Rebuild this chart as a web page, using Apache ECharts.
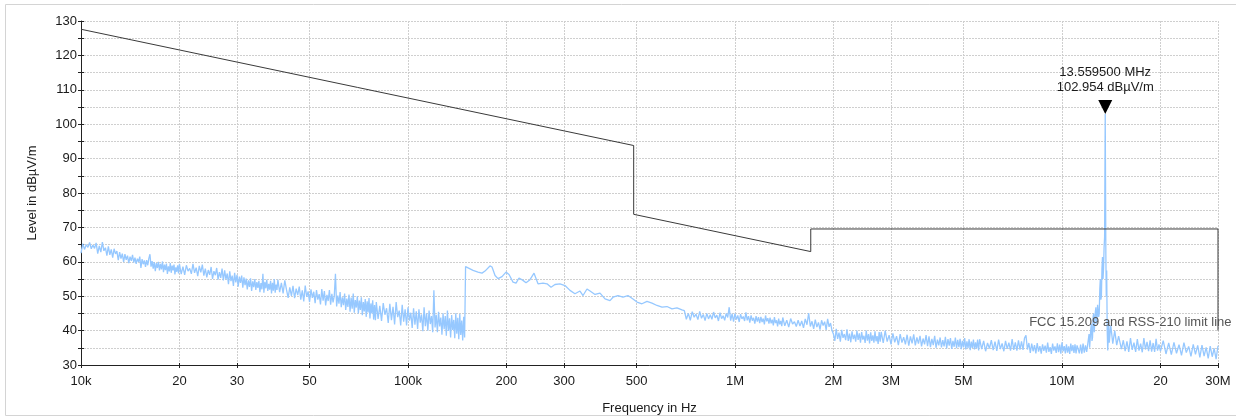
<!DOCTYPE html>
<html>
<head>
<meta charset="utf-8">
<script src="https://cdn.jsdelivr.net/npm/echarts@6/dist/echarts.min.js"></script>
<style>
  html, body { margin: 0; padding: 0; background: #fff; }
  #chart { width: 1236px; height: 417px; }
</style>
</head>
<body>
<div id="chart"></div>
<script>
// frequency axis in kHz
const xTicks = [10, 20, 30, 50, 100, 200, 300, 500, 1000, 2000, 3000, 5000, 10000, 20000, 30000];
const xTickLabels = ['10k', '20', '30', '50', '100k', '200', '300', '500', '1M', '2M', '3M', '5M', '10M', '20', '30M'];

// FCC 15.209 limit (kHz, dBµV/m)
const limitFreq = [10, 490, 490, 1705, 1705, 30000, 30000];
const limitLevel = [127.6, 93.8, 73.8, 62.97, 69.54, 69.54, 40];
const limitName = 'FCC 15.209 and RSS-210 limit line';

// marker
const markerFreq = 13559.5;
const markerLevel = 102.954;

// measured trace (kHz)
const traceFreq = [
  10, 10.125, 10.25, 10.375, 10.5, 10.625, 10.75, 10.875, 11, 11.125,
  11.25, 11.375, 11.5, 11.625, 11.75, 11.875, 12, 12.125, 12.25, 12.375,
  12.5, 12.625, 12.75, 12.875, 13, 13.125, 13.25, 13.375, 13.5, 13.625,
  13.75, 13.875, 14, 14.125, 14.25, 14.375, 14.5, 14.625, 14.75, 14.875,
  15, 15.125, 15.25, 15.375, 15.5, 15.625, 15.75, 15.875, 16, 16.125,
  16.25, 16.375, 16.5, 16.625, 16.75, 16.875, 17, 17.125, 17.25, 17.375,
  17.5, 17.625, 17.75, 17.875, 18, 18.125, 18.25, 18.375, 18.5, 18.625,
  18.75, 18.875, 19, 19.125, 19.25, 19.375, 19.5, 19.625, 19.75, 19.875,
  20, 20.25, 20.5, 20.75, 21, 21.25, 21.5, 21.75, 22, 22.25,
  22.5, 22.75, 23, 23.25, 23.5, 23.75, 24, 24.25, 24.5, 24.75,
  25, 25.25, 25.5, 25.75, 26, 26.25, 26.5, 26.75, 27, 27.25,
  27.5, 27.75, 28, 28.25, 28.5, 28.75, 29, 29.25, 29.5, 29.75,
  30, 30.25, 30.5, 30.75, 31, 31.25, 31.5, 31.75, 32, 32.25,
  32.5, 32.75, 33, 33.25, 33.5, 33.75, 34, 34.25, 34.5, 34.75,
  35, 35.25, 35.5, 35.75, 36, 36.25, 36.5, 36.75, 37, 37.25,
  37.5, 37.75, 38, 38.25, 38.5, 38.75, 39, 39.25, 39.5, 39.75,
  40, 40.5, 41, 41.5, 42, 42.5, 43, 43.5, 44, 44.5,
  45, 45.5, 46, 46.5, 47, 47.5, 48, 48.5, 49, 49.5,
  50, 50.5, 51, 51.5, 52, 52.5, 53, 53.5, 54, 54.5,
  55, 55.5, 56, 56.5, 57, 57.5, 58, 58.5, 59, 59.5,
  60, 60.5, 61, 61.5, 62, 62.5, 63, 63.5, 64, 64.5,
  65, 65.5, 66, 66.5, 67, 67.5, 68, 68.5, 69, 69.5,
  70, 70.5, 71, 71.5, 72, 72.5, 73, 73.5, 74, 74.5,
  75, 75.5, 76, 76.5, 77, 77.5, 78, 78.5, 79, 79.5,
  80, 81, 82, 83, 84, 85, 86, 87, 88, 89,
  90, 91, 92, 93, 94, 95, 96, 97, 98, 99,
  100, 101, 102, 103, 104, 105, 106, 107, 108, 109,
  110, 111, 112, 113, 114, 115, 116, 117, 118, 119,
  120, 121, 122, 123, 124, 125, 126, 127, 128, 129,
  130, 131, 132, 133, 134, 135, 136, 137, 138, 139,
  140, 141, 142, 143, 144, 145, 146, 147, 148, 149,
  150, 151.2, 158.1, 163.7, 168.4, 172.0, 174.4, 178.1, 180.7, 184.6,
  188.5, 193.9, 199.4, 203.7, 209.5, 214.0, 218.5, 224.7, 229.6, 236.1,
  242.9, 249.8, 258.8, 266.2, 273.8, 281.5, 291.6, 302.1, 312.9, 324.1,
  335.7, 343.0, 352.7, 360.3, 373.2, 386.6, 400.4, 414.7, 423.6, 438.7,
  454.4, 470.7, 487.6, 501.5, 519.4, 538.1, 557.4, 577.4, 598.1, 619.4,
  641.6, 664.6, 688.5,
  700, 710, 720, 730, 740, 750, 760, 770, 780, 790,
  800, 810, 820, 830, 840, 850, 860, 870, 880, 890,
  900, 910, 920, 930, 940, 950, 960, 970, 980, 990,
  1000, 1010, 1020, 1030, 1040, 1050, 1060, 1070, 1080, 1090,
  1100, 1110, 1120, 1130, 1140, 1150, 1160, 1170, 1180, 1190,
  1200, 1210, 1220, 1230, 1240, 1250, 1260, 1270, 1280, 1290,
  1300, 1310, 1320, 1330, 1340, 1350, 1360, 1370, 1380, 1390,
  1400, 1420, 1440, 1460, 1480, 1500, 1520, 1540, 1560, 1580,
  1600, 1620, 1640, 1660, 1680, 1700, 1720, 1740, 1760, 1780,
  1800, 1820, 1840, 1860, 1880, 1900, 1920, 1940, 1960, 1980,
  2000, 2020, 2040, 2060, 2080, 2100, 2120, 2140, 2160, 2180,
  2200, 2220, 2240, 2260, 2280, 2300, 2320, 2340, 2360, 2380,
  2400, 2420, 2440, 2460, 2480, 2500, 2520, 2540, 2560, 2580,
  2600, 2620, 2640, 2660, 2680, 2700, 2720, 2740, 2760, 2780,
  2800, 2840, 2880, 2920, 2960, 3000, 3040, 3080, 3120, 3160,
  3200, 3240, 3280, 3320, 3360, 3400, 3440, 3480, 3520, 3560,
  3600, 3640, 3680, 3720, 3760, 3800, 3840, 3880, 3920, 3960,
  4000, 4040, 4080, 4120, 4160, 4200, 4240, 4280, 4320, 4360,
  4400, 4440, 4480, 4520, 4560, 4600, 4640, 4680, 4720, 4760,
  4800, 4840, 4880, 4920, 4960, 5000, 5040, 5080, 5120, 5160,
  5200, 5240, 5280, 5320, 5360, 5400, 5440, 5480, 5520, 5560,
  5600, 5680, 5760, 5840, 5920, 6000, 6080, 6160, 6240, 6320,
  6400, 6480, 6560, 6640, 6720, 6800, 6880, 6960, 7040, 7120,
  7200, 7280, 7360, 7440, 7520, 7600, 7680, 7760, 7840, 7920,
  8000, 8080, 8160, 8240, 8320, 8400, 8480, 8560, 8640, 8720,
  8800, 8880, 8960, 9040, 9120, 9200, 9280, 9360, 9440, 9520,
  9600, 9680, 9760, 9840, 9920, 10000, 10080, 10160, 10240, 10320,
  10400, 10480, 10560, 10640, 10720, 10800, 10880, 10960, 11040, 11120,
  11200, 11300, 11400, 11500, 11600, 11700, 11800, 11900, 12000, 12100,
  12150, 12200, 12250, 12300, 12350, 12400, 12450, 12500, 12550, 12600,
  12650, 12700, 12750, 12800, 12850, 12900, 12950, 13000, 13050, 13100,
  13150, 13200, 13250, 13300, 13350, 13400, 13450, 13500, 13559.5, 13620,
  13660, 13700, 13750, 13800, 13850, 13900, 13950, 14000, 14100, 14200,
  14300, 14400, 14500, 14600, 14700, 14800, 14900,
  15000, 15200, 15400, 15600, 15800, 16000, 16200, 16400, 16600, 16800,
  17000, 17200, 17400, 17600, 17800, 18000, 18200, 18400, 18600, 18800,
  19000, 19200, 19400, 19600, 19800,
  20000, 20400, 20800, 21200, 21600, 22000, 22400, 22800, 23200, 23600,
  24000, 24400, 24800, 25200, 25600, 26000, 26400, 26800, 27200, 27600,
  28000, 28400, 28800, 29200, 29600, 30000
];
const traceLevel = [
  62.5, 65.3, 63.6, 65.0, 64.2, 65.6, 63.8, 64.9, 63.9, 65.5,
  62.4, 64.6, 62.8, 65.7, 63.2, 64.1, 61.8, 64.5, 62.0, 63.6,
  61.2, 63.8, 62.3, 63.1, 60.5, 62.8, 60.9, 62.4, 60.0, 62.2,
  60.6, 61.8, 59.6, 61.5, 60.3, 62.0, 59.8, 61.2, 59.4, 60.9,
  60.0, 61.5, 58.2, 60.8, 59.3, 60.4, 58.5, 60.5, 59.0, 61.0,
  62.2, 58.6, 60.2, 58.0, 59.9, 57.3, 59.6, 58.2, 60.0, 57.5,
  59.4, 57.8, 60.1, 57.0, 59.2, 57.6, 59.5, 56.5, 58.7, 57.2,
  59.6, 56.8, 58.9, 57.5, 59.2, 56.3, 58.4, 57.1, 59.0, 56.6,
  59.4, 56.4, 58.6, 56.2, 59.0, 57.3, 58.1, 56.5, 59.4, 56.8,
  58.3, 55.8, 58.8, 56.9, 59.2, 56.0, 58.0, 55.5, 57.6, 56.2,
  58.5, 55.0, 57.3, 56.1, 58.2, 54.8, 57.0, 55.3, 58.0, 54.6,
  57.5, 54.9, 56.6, 53.5, 57.2, 54.4, 56.0, 53.0, 56.8, 54.0,
  56.2, 52.8, 55.7, 53.9, 56.0, 52.5, 55.5, 53.2, 55.1, 52.0,
  54.6, 52.7, 55.2, 51.5, 54.3, 52.6, 55.0, 51.8, 54.1, 52.4,
  54.5, 51.2, 53.8, 52.0, 56.5, 51.0, 54.2, 52.3, 54.8, 51.5,
  53.6, 51.9, 54.5, 50.8, 53.9, 51.6, 55.0, 51.0, 53.4, 51.8,
  54.8, 51.2, 53.9, 50.8, 54.6, 51.9, 49.5, 52.6, 50.1, 53.0,
  49.4, 52.2, 50.3, 52.8, 49.0, 51.7, 48.5, 53.1, 49.8, 51.4,
  48.3, 52.0, 49.5, 51.3, 48.0, 51.8, 49.0, 50.6, 47.6, 52.1,
  48.7, 51.5, 47.3, 50.4, 48.6, 51.8, 47.5, 50.7, 48.2, 50.1,
  56.5, 47.0, 50.2, 47.8, 51.2, 46.8, 49.7, 47.4, 50.8, 46.0,
  49.3, 46.9, 50.5, 45.5, 49.6, 46.4, 50.8, 45.2, 48.9, 46.7,
  50.0, 45.0, 48.7, 46.0, 49.7, 44.5, 48.3, 45.6, 49.2, 44.0,
  48.5, 45.3, 49.5, 43.5, 47.9, 45.0, 48.8, 43.2, 47.4, 43.0,
  48.3, 43.4, 47.2, 42.8, 48.0, 44.6, 46.5, 42.2, 47.8, 43.0,
  46.9, 41.8, 48.3, 43.9, 45.8, 41.5, 47.5, 42.6, 46.2, 41.5,
  46.8, 42.9, 45.2, 40.8, 46.5, 41.7, 45.6, 40.5, 46.2, 42.3,
  44.7, 39.8, 46.8, 41.3, 45.0, 40.0, 45.8, 41.9, 44.2, 39.5,
  51.7, 40.9, 44.6, 39.5, 45.5, 41.2, 43.8, 38.8, 45.0, 40.4,
  44.2, 38.5, 45.8, 39.9, 43.6, 38.0, 44.5, 40.2, 43.1, 37.8,
  45.0, 39.1, 43.7, 37.5, 44.8, 38.7, 42.9, 37.1, 44.0, 38.0,
  58.6, 58.5, 57.5, 57.0, 56.7, 57.3, 57.7, 58.8, 58.5, 56.0,
  55.1, 55.7, 57.0, 56.3, 54.1, 53.8, 55.3, 54.6, 53.9, 54.8,
  56.7, 53.6, 53.8, 53.6, 52.6, 53.4, 53.6, 53.1, 51.7, 50.7,
  51.5, 50.2, 52.1, 51.5, 50.5, 50.9, 49.2, 48.7, 49.7, 50.2,
  49.7, 50.2, 49.2, 48.3, 47.8, 48.5, 48.0, 47.3, 46.8, 47.0,
  46.3, 46.6, 46.0,
  45.8, 43.3, 45.0, 43.0, 45.5, 43.9, 44.8, 43.2, 45.6, 43.6,
  44.7, 42.9, 45.0, 43.4, 44.6, 43.3, 45.4, 43.7, 44.5, 42.8,
  45.2, 43.5, 44.3, 43.0, 45.0, 43.8, 46.8, 42.9, 44.9, 42.6,
  45.0, 43.2, 44.4, 42.5, 44.8, 43.4, 44.1, 42.8, 45.3, 43.0,
  44.2, 42.3, 44.4, 42.9, 43.7, 42.0, 44.2, 42.6, 43.9, 42.2,
  44.0, 42.5, 43.5, 41.8, 44.4, 42.7, 43.6, 42.0, 43.8, 42.1,
  43.2, 41.5, 43.9, 42.2, 43.0, 41.2, 43.5, 41.8, 42.8, 41.3,
  43.8, 41.4, 43.0, 41.0, 43.5, 41.9, 42.6, 41.2, 43.0, 41.3,
  42.8, 40.8, 43.4, 41.7, 45.1, 41.2, 42.7, 40.5, 43.2, 41.0,
  42.4, 40.3, 43.0, 41.5, 42.6, 40.2, 43.4, 41.1, 42.2, 40.0,
  39.0, 37.0, 40.5, 37.6, 39.4, 36.8, 40.2, 37.9, 39.0, 37.2,
  40.4, 37.0, 39.1, 36.6, 39.8, 37.5, 38.8, 36.8, 40.0, 37.3,
  39.2, 36.5, 39.6, 37.4, 38.5, 36.4, 40.0, 37.1, 39.0, 36.3,
  39.5, 37.0, 38.6, 36.5, 39.8, 36.9, 38.4, 36.1, 39.6, 36.8,
  39.6, 36.4, 40.0, 36.8, 38.7, 36.0, 39.2, 36.6, 38.4, 35.8,
  39.0, 36.5, 38.1, 36.0, 38.8, 35.6, 38.3, 36.3, 38.9, 35.7,
  38.0, 36.2, 38.5, 35.4, 37.7, 36.0, 38.7, 35.5, 38.3, 35.2,
  37.6, 35.8, 38.5, 35.0, 37.4, 35.7, 38.0, 35.1, 37.2, 35.4,
  38.2, 34.8, 37.5, 35.6, 37.8, 34.7, 37.0, 35.3, 38.0, 34.9,
  37.3, 35.2, 37.6, 34.6, 37.0, 35.1, 37.8, 34.5, 36.9, 34.9,
  37.5, 34.3, 36.8, 35.0, 37.4, 34.5, 36.6, 34.8, 37.4, 34.2,
  37.5, 34.6, 37.0, 34.0, 36.4, 34.8, 37.2, 34.3, 36.8, 34.1,
  37.4, 34.6, 36.3, 34.0, 37.0, 34.7, 36.5, 34.2, 37.5, 34.4,
  36.6, 34.2, 37.2, 34.5, 36.9, 34.4, 37.8, 38.6, 34.5, 36.4,
  33.5, 36.2, 34.0, 35.8, 33.4, 36.4, 33.9, 35.5, 33.3, 36.0,
  34.1, 35.6, 33.6, 36.5, 33.8, 35.2, 33.2, 36.2, 34.2, 35.4,
  33.5, 36.3, 33.7, 35.9, 33.3, 36.6, 34.0, 35.5, 33.4, 36.0,
  33.6, 35.4, 33.2, 36.2, 34.0, 35.8, 33.5, 36.0, 33.4, 35.7,
  36.0, 33.4, 35.9, 33.3, 36.2, 33.6, 35.7, 33.8, 36.4, 39.0,
  35.0, 34.5, 40.5, 42.0, 37.0, 38.0, 44.0, 45.0, 39.5, 40.0,
  45.5, 46.8, 42.0, 43.0, 47.5, 47.8, 44.0, 45.0, 52.0, 55.0,
  49.0, 50.0, 58.0, 61.4, 55.0, 58.0, 64.0, 67.2, 102.954, 62.0,
  50.0, 57.5, 40.0, 34.2, 38.0, 42.9, 36.5, 37.0, 41.5, 42.0,
  36.2, 36.0, 40.0, 40.5, 35.8, 35.5, 38.4,
  38.1, 34.6, 37.2, 34.0, 36.9, 33.8, 37.8, 34.4, 36.5, 33.8,
  37.5, 34.2, 36.2, 33.7, 37.8, 34.5, 36.7, 34.0, 37.2, 33.9,
  36.4, 33.8, 37.6, 34.2, 36.0,
  34.0, 37.1, 33.2, 36.4, 33.0, 36.6, 33.4, 35.9, 32.8, 36.5,
  33.6, 35.4, 32.5, 36.0, 33.1, 35.7, 32.2, 35.8, 32.6, 35.1,
  31.9, 35.5, 32.4, 34.8, 31.7, 35.6
];

const font = '"Liberation Sans", Arial, sans-serif';
const textColor = '#1a1a1a';
const gridLine = { show: true, lineStyle: { color: '#cfcfcf', type: [2, 1], width: 1 } };

function tickLabel(v) {
  const i = xTicks.findIndex(t => Math.abs(t - v) < t * 1e-6);
  return i < 0 ? '' : xTickLabels[i];
}

const traceData = traceFreq.map((f, i) => [f, traceLevel[i]]);
const limitData = limitFreq.map((f, i) => [f, limitLevel[i]]);

const chart = echarts.init(document.getElementById('chart'));

const option = {
  animation: false,
  backgroundColor: '#fff',
  grid: { left: 81, right: 18, top: 21, bottom: 52, outerBoundsMode: 'none' },
  graphic: [{
    type: 'rect',
    silent: true,
    z: -10,
    shape: { x: 5.5, y: 4.5, width: 1240, height: 411 },
    style: { fill: 'none', stroke: '#d4d4d4', lineWidth: 1 }
  }],
  xAxis: [{
    type: 'log',
    logBase: 10,
    min: 10,
    max: 30000,
    name: 'Frequency in Hz',
    nameLocation: 'middle',
    nameGap: 37,
    nameTextStyle: { fontSize: 13, color: textColor, fontFamily: font },
    axisLine: { show: true, onZero: false, lineStyle: { color: '#222', width: 1 } },
    axisTick: { show: true, customValues: xTicks, length: 3, lineStyle: { color: '#222' } },
    axisLabel: { customValues: xTicks, formatter: tickLabel, fontSize: 13, color: textColor, fontFamily: font, margin: 10 },
    splitLine: gridLine,
    minorTick: { show: false },
    minorSplitLine: { show: false }
  }, {
    type: 'log',
    logBase: 10,
    min: 10,
    max: 30000,
    position: 'bottom',
    axisLine: { show: false },
    axisTick: { show: true, inside: true, customValues: xTicks, length: 2, lineStyle: { color: '#222' } },
    axisLabel: { show: false, customValues: xTicks },
    splitLine: { show: false }
  }],
  yAxis: [{
    type: 'value',
    min: 30,
    max: 130,
    interval: 10,
    name: 'Level in dBµV/m',
    nameLocation: 'middle',
    nameGap: 42,
    nameTextStyle: { fontSize: 13, color: textColor, fontFamily: font },
    axisLine: { show: true, onZero: false, lineStyle: { color: '#222', width: 1 } },
    axisTick: { show: true, length: 3, lineStyle: { color: '#222' } },
    minorTick: { show: true, splitNumber: 2, length: 3, lineStyle: { color: '#222' } },
    axisLabel: { fontSize: 13, color: textColor, fontFamily: font, margin: 4 },
    splitLine: gridLine,
    minorSplitLine: gridLine
  }, {
    type: 'value',
    min: 30,
    max: 130,
    interval: 10,
    position: 'left',
    axisLine: { show: false },
    axisTick: { show: true, inside: true, length: 3, lineStyle: { color: '#222' } },
    minorTick: { show: true, splitNumber: 2, length: 3, lineStyle: { color: '#222' } },
    axisLabel: { show: false },
    splitLine: { show: false }
  }],
  series: [{
    name: 'Level',
    type: 'line',
    data: traceData,
    symbol: 'none',
    silent: true,
    z: 2,
    lineStyle: { color: '#96c8ff', width: 1.3 },
    itemStyle: { color: '#96c8ff' },
    markPoint: {
      symbol: 'path://M0 0L2 0L1 2Z',
      symbolSize: [14, 14],
      symbolOffset: [0, -7],
      itemStyle: { color: '#000' },
      label: {
        show: true,
        position: 'top',
        distance: 5,
        formatter: (markerFreq / 1000).toFixed(6) + ' MHz\n' + markerLevel.toFixed(3) + ' dBµV/m',
        fontSize: 13,
        lineHeight: 15,
        color: textColor,
        fontFamily: font
      },
      data: [{ coord: [markerFreq, markerLevel] }]
    }
  }, {
    name: limitName,
    type: 'line',
    data: limitData,
    symbol: 'none',
    silent: true,
    z: 3,
    lineStyle: { color: '#3a3a3a', width: 1 },
    markPoint: {
      symbol: 'circle',
      symbolSize: 1,
      itemStyle: { color: 'rgba(0,0,0,0)' },
      label: {
        show: true,
        position: [14, -8],
        align: 'right',
        verticalAlign: 'middle',
        formatter: limitName,
        fontSize: 13,
        color: '#555',
        fontFamily: font
      },
      data: [{ coord: limitData[limitData.length - 1] }]
    }
  }]
};

chart.setOption(option);
</script>
</body>
</html>
